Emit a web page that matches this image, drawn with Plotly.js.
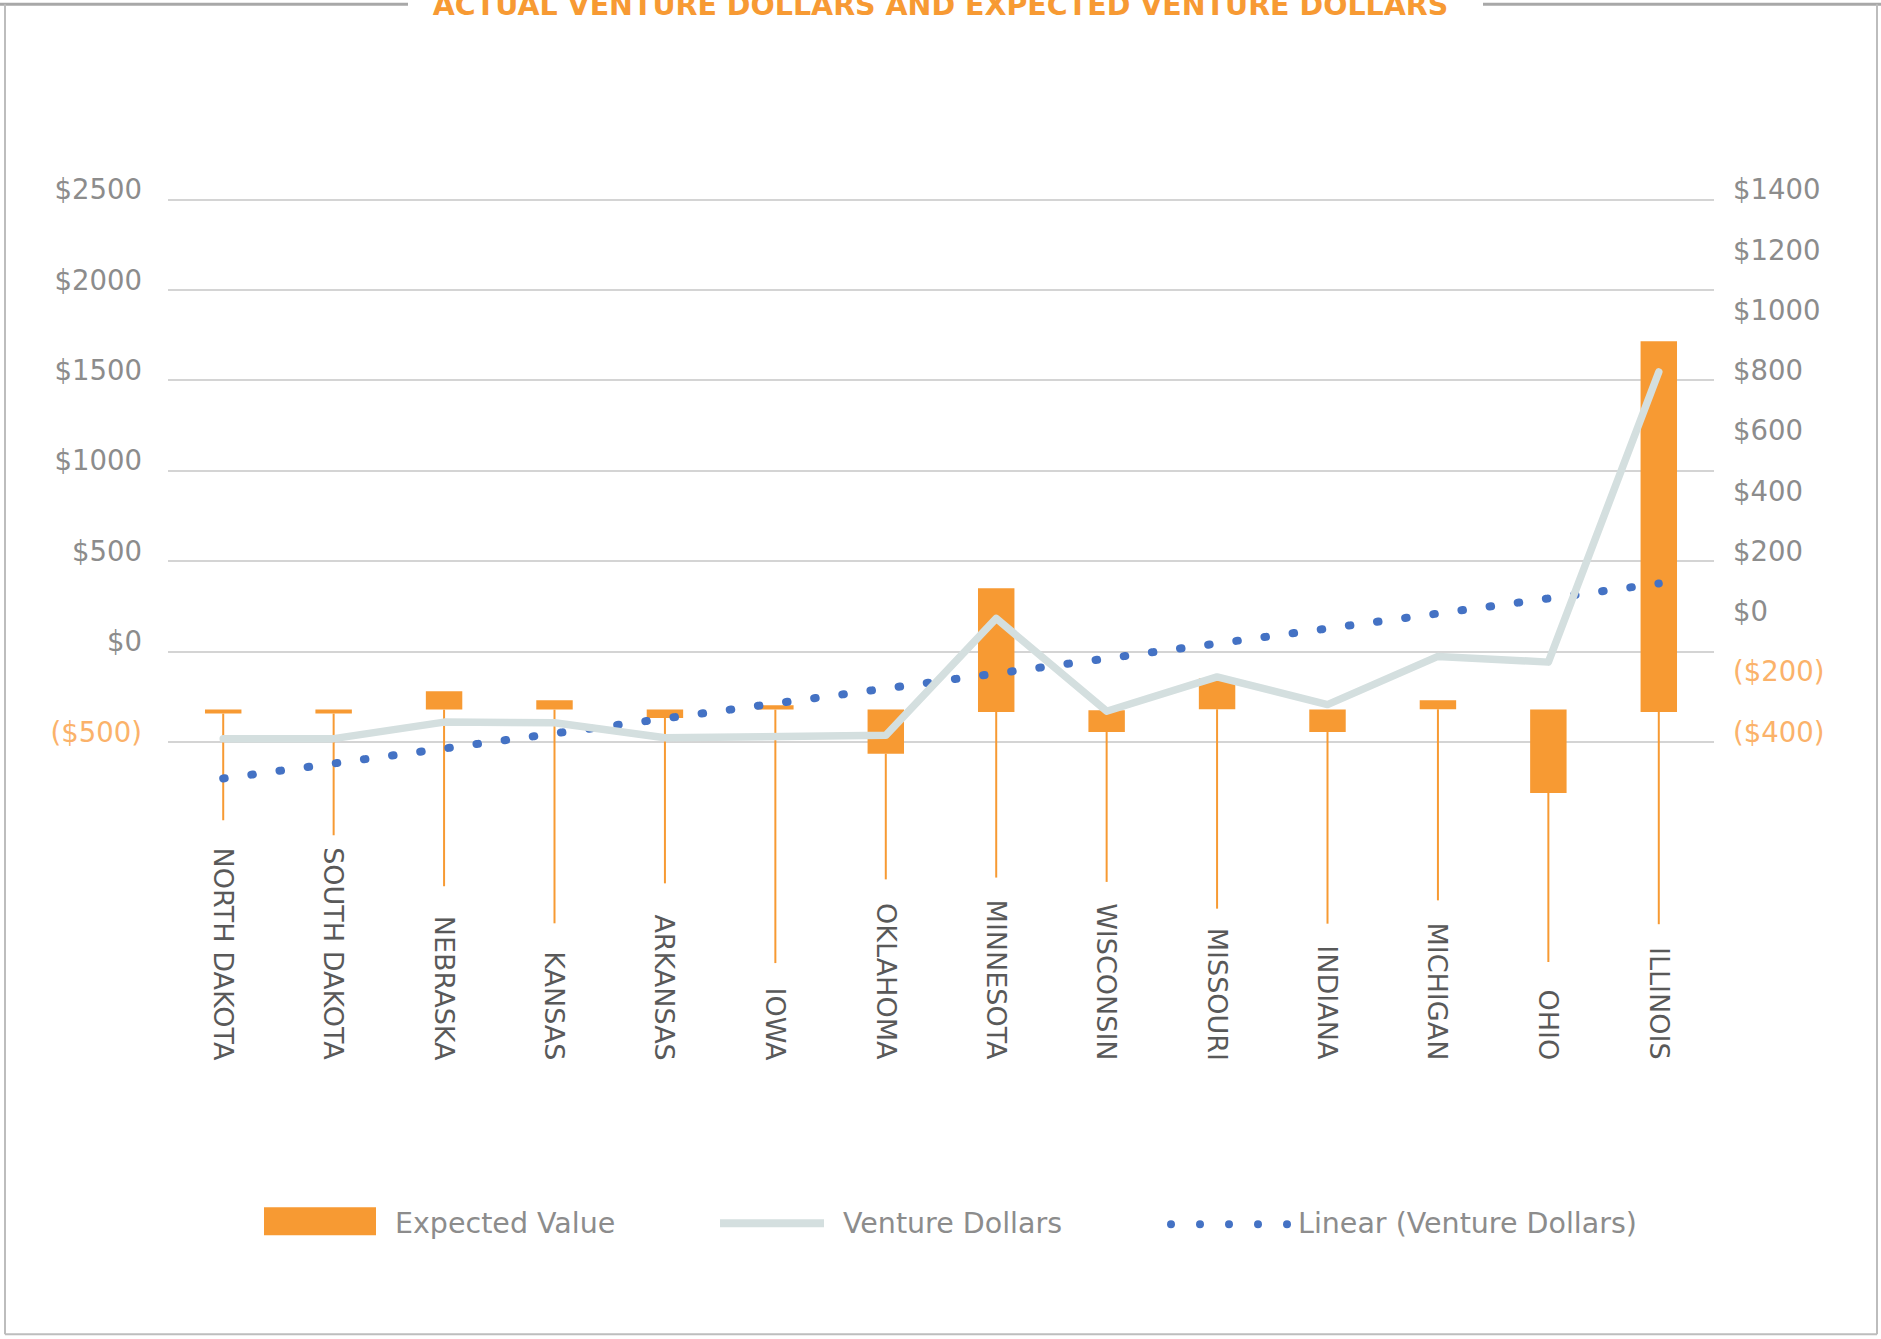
<!DOCTYPE html>
<html>
<head>
<meta charset="utf-8">
<script src="https://cdn.plot.ly/plotly-3.0.1.min.js"></script>
<style>
  html, body { margin: 0; padding: 0; background: #ffffff; }
  #chart { width: 1881px; height: 1339px; }
  g.tracetrend path.js-line { stroke-linecap: round; }
  g.traceventure path.js-line { stroke-linecap: round; stroke-linejoin: round; }
</style>
</head>
<body>
<div id="chart"></div>
<script>
// ---------------- data ----------------
const states = ['NORTH DAKOTA','SOUTH DAKOTA','NEBRASKA','KANSAS','ARKANSAS','IOWA','OKLAHOMA',
                'MINNESOTA','WISCONSIN','MISSOURI','INDIANA','MICHIGAN','OHIO','ILLINOIS'];
// Expected Value boxes (left axis)
const barTop    = [-321, -321, -220, -269, -321, -297, -321,  350, -325, -149, -321, -269, -321, 1717];
const barBottom = [-343, -343, -321, -321, -367, -321, -565, -334, -445, -319, -445, -319, -782, -334];
// low end of the thin vertical lines (left axis)
const whiskerLow = [-933, -1016, -1298, -1503, -1282, -1723, -1260, -1250, -1274, -1422, -1505, -1376, -1717, -1508];
// Venture Dollars (right axis)
const ventureDollars = [-389, -389, -334, -336, -386, -381, -378, 10, -298, -184, -276, -116, -135, 828];
// Linear (Venture Dollars) trend line, value at first and last state (right axis)
const trendEnds = [-521, 126];

// axis ticks
const leftTickVals  = [-500, 0, 500, 1000, 1500, 2000, 2500];
const leftTickText  = ['($500)', '$0', '$500', '$1000', '$1500', '$2000', '$2500'];
const rightTickVals = [-400, -200, 0, 200, 400, 600, 800, 1000, 1200, 1400];
const rightTickText = ['($400)', '($200)', '$0', '$200', '$400', '$600', '$800', '$1000', '$1200', '$1400'];

const titleText = 'ACTUAL VENTURE DOLLARS AND EXPECTED VENTURE DOLLARS';
const legendNames = ['Expected Value', 'Venture Dollars', 'Linear (Venture Dollars)'];

// ---------------- styling ----------------
const ORANGE = '#F79A33';
const NEG = '#FBB26A';
const GRAY_TXT = '#8C8C8C';
const LINE_CLR = '#D4DFDF';
const DOT_CLR = '#4472C4';
const FONT = 'DejaVu Sans';

const W = 1881, H = 1339;
const M = { l: 168, r: 167, t: 195.8, b: 362.3 };
const PW = W - M.l - M.r, PH = H - M.t - M.b;
const px = v => (v - M.l) / PW;          // pixel x -> paper
const py = v => 1 - (v - M.t) / PH;      // pixel y -> paper

const colorNeg = (vals, txt) => txt.map((t, i) => vals[i] < 0 ? '<span style="color:' + NEG + '">' + t + '</span>' : t);

// ---------------- traces ----------------
const whiskX = [], whiskY = [];
states.forEach((s, i) => {
  whiskX.push(s, s, null);
  whiskY.push(Math.min(barTop[i], barBottom[i]), whiskerLow[i], null);
});

const traces = [
  {
    type: 'bar', name: legendNames[0], x: states,
    y: barTop.map((t, i) => t - barBottom[i]), base: barBottom,
    width: 0.33, marker: { color: ORANGE, line: { width: 0 } },
    xaxis: 'x', yaxis: 'y', hoverinfo: 'skip'
  },
  {
    type: 'scatter', mode: 'lines', x: whiskX, y: whiskY, connectgaps: false,
    line: { color: ORANGE, width: 2 }, xaxis: 'x', yaxis: 'y', hoverinfo: 'skip'
  },
  {
    type: 'scatter', mode: 'lines', uid: 'trend', name: legendNames[2],
    x: [states[0], states[states.length - 1]], y: trendEnds,
    line: { color: DOT_CLR, width: 8, dash: '1.5px,26.9px' },
    xaxis: 'x', yaxis: 'y2', hoverinfo: 'skip'
  },
  {
    type: 'scatter', mode: 'lines', uid: 'venture', name: legendNames[1],
    x: states, y: ventureDollars,
    line: { color: LINE_CLR, width: 7.5 },
    xaxis: 'x', yaxis: 'y2', hoverinfo: 'skip'
  }
];

// ---------------- annotations ----------------
const annotations = states.map(s => ({
  text: s, x: s, xref: 'x', yref: 'paper', y: py(1062),
  xanchor: 'center', yanchor: 'bottom', textangle: 90, showarrow: false,
  font: { family: FONT, size: 27, color: '#595959' }
}));
const legTextX = [393, 841, 1296];
legendNames.forEach((n, i) => annotations.push({
  text: n, xref: 'paper', yref: 'paper', x: px(legTextX[i]), y: py(1223),
  xanchor: 'left', yanchor: 'middle', showarrow: false,
  font: { family: FONT, size: 28.5, color: GRAY_TXT }
}));

// ---------------- shapes (frame + legend keys) ----------------
const shapes = [];
const pline = (x0, y0, x1, y1, color, width) => shapes.push({
  type: 'line', xref: 'paper', yref: 'paper', x0: px(x0), y0: py(y0), x1: px(x1), y1: py(y1),
  line: { color: color, width: width }
});
pline(0, 4, 408, 4, '#A8A8A8', 3);
pline(1483, 4, 1881, 4, '#A8A8A8', 3);
pline(5, 4, 5, 1334, '#BDBDBD', 2);
pline(1877, 4, 1877, 1334, '#BDBDBD', 2);
pline(5, 1334, 1877, 1334, '#BDBDBD', 2);
// legend: expected value box
shapes.push({ type: 'rect', xref: 'paper', yref: 'paper', x0: px(264), x1: px(376), y0: py(1235), y1: py(1207),
  fillcolor: ORANGE, line: { width: 0 } });
// legend: venture dollars line
shapes.push({ type: 'line', xref: 'paper', yref: 'paper', x0: px(720), x1: px(824), y0: py(1223), y1: py(1223),
  line: { color: LINE_CLR, width: 8 } });
// legend: dots
[1171, 1200, 1229, 1258, 1287].forEach(cx => shapes.push({
  type: 'circle', xref: 'paper', yref: 'paper', x0: px(cx - 4), x1: px(cx + 4), y0: py(1228), y1: py(1220),
  fillcolor: DOT_CLR, line: { width: 0 }
}));

// ---------------- layout ----------------
const layout = {
  width: W, height: H, margin: M, paper_bgcolor: '#ffffff', plot_bgcolor: 'rgba(0,0,0,0)',
  showlegend: false,
  title: {
    text: titleText, x: 0.5, xref: 'container', xanchor: 'center',
    y: 1 - 5.2 / H, yref: 'container', yanchor: 'middle',
    font: { family: FONT, size: 28.5, color: ORANGE, weight: 700 }
  },
  xaxis: {
    type: 'category', range: [-0.5, states.length - 0.5], showticklabels: false,
    showgrid: false, zeroline: false, showline: false, ticks: '', fixedrange: true
  },
  yaxis: {
    range: [-1800, 2520], tickmode: 'array', tickvals: leftTickVals,
    ticktext: colorNeg(leftTickVals, leftTickText),
    showgrid: true, gridcolor: '#D4D4D4', gridwidth: 2, zeroline: false, showline: false, ticks: '',
    tickfont: { family: FONT, size: 27.5, color: GRAY_TXT },
    ticklabelstandoff: 25, ticklabelshift: -10, fixedrange: true
  },
  yaxis2: {
    overlaying: 'y', side: 'right', range: [-1180, 1412], tickmode: 'array', tickvals: rightTickVals,
    ticktext: colorNeg(rightTickVals, rightTickText),
    showgrid: false, zeroline: false, showline: false, ticks: '',
    tickfont: { family: FONT, size: 27.5, color: GRAY_TXT },
    ticklabelstandoff: 18, ticklabelshift: -10, fixedrange: true
  },
  annotations: annotations,
  shapes: shapes
};

Plotly.newPlot('chart', traces, layout, { displayModeBar: false, responsive: false });
</script>
</body>
</html>
